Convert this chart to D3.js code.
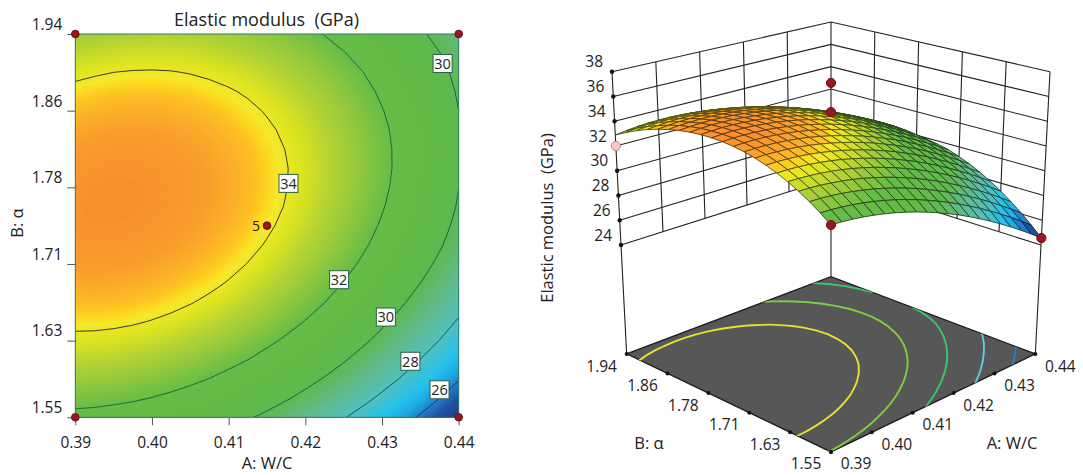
<!DOCTYPE html>
<meta charset="utf-8">
<script src="https://cdn.jsdelivr.net/npm/d3@7"></script>
<style>
  body { margin: 0; background: #fff; }
  text { font-family: "Open Sans", sans-serif; fill: #222; }
</style>
<div id="chart"></div>
<script>
// axis labels
var aLabels = ["0.39", "0.40", "0.41", "0.42", "0.43", "0.44"];
var bLabels = ["1.55", "1.63", "1.71", "1.78", "1.86", "1.94"];
var zLabels = [24, 26, 28, 30, 32, 34, 36, 38];

// grid positions of the response table below
var gridA = [0.39, 0.3925, 0.395, 0.3975, 0.40, 0.4025, 0.405, 0.4075, 0.41, 0.4125, 0.415,
             0.4175, 0.42, 0.4225, 0.425, 0.4275, 0.43, 0.4325, 0.435, 0.4375, 0.44];
var gridB = [1.55, 1.5695, 1.589, 1.6085, 1.628, 1.6475, 1.667, 1.6865, 1.706, 1.7255, 1.745,
             1.7645, 1.784, 1.8035, 1.823, 1.8425, 1.862, 1.8815, 1.901, 1.9205, 1.94];

// elastic modulus: one row per gridB value, one column per gridA value
var modulus = [
  [31.73,31.68,31.60,31.48,31.33,31.15,30.94,30.70,30.42,30.11,29.77,29.39,28.99,28.55,28.07,27.57,27.03,26.46,25.86,25.23,24.56],
  [32.34,32.30,32.22,32.12,31.98,31.81,31.60,31.37,31.10,30.80,30.46,30.10,29.70,29.27,28.80,28.31,27.78,27.22,26.63,26.00,25.34],
  [32.89,32.86,32.79,32.69,32.56,32.40,32.21,31.98,31.72,31.43,31.10,30.74,30.35,29.93,29.48,28.99,28.47,27.92,27.33,26.72,26.07],
  [33.38,33.36,33.30,33.21,33.09,32.94,32.75,32.53,32.28,32.00,31.68,31.33,30.95,30.54,30.09,29.61,29.10,28.56,27.98,27.37,26.73],
  [33.82,33.80,33.75,33.67,33.56,33.42,33.24,33.03,32.79,32.51,32.20,31.86,31.49,31.09,30.65,30.18,29.68,29.14,28.57,27.98,27.34],
  [34.19,34.19,34.15,34.08,33.97,33.84,33.67,33.47,33.23,32.97,32.67,32.34,31.97,31.58,31.15,30.69,30.19,29.67,29.11,28.52,27.89],
  [34.51,34.52,34.48,34.42,34.33,34.20,34.04,33.85,33.62,33.36,33.07,32.75,32.40,32.01,31.59,31.14,30.65,30.13,29.58,29.00,28.39],
  [34.77,34.79,34.76,34.71,34.62,34.50,34.35,34.17,33.95,33.70,33.42,33.11,32.76,32.38,31.97,31.53,31.05,30.54,30.00,29.43,28.82],
  [34.98,35.00,34.98,34.94,34.86,34.75,34.61,34.43,34.22,33.98,33.71,33.41,33.07,32.70,32.30,31.86,31.39,30.89,30.36,29.80,29.20],
  [35.12,35.15,35.15,35.11,35.04,34.94,34.81,34.64,34.44,34.21,33.94,33.65,33.32,32.96,32.56,32.14,31.68,31.19,30.66,30.11,29.52],
  [35.21,35.25,35.25,35.22,35.16,35.07,34.94,34.79,34.60,34.37,34.12,33.83,33.51,33.16,32.77,32.35,31.90,31.42,30.91,30.36,29.72],
  [35.24,35.28,35.30,35.28,35.23,35.14,35.03,34.88,34.70,34.48,34.23,33.96,33.64,33.30,32.92,32.51,32.07,31.60,31.09,30.55,29.90],
  [35.21,35.26,35.29,35.28,35.23,35.16,35.05,34.91,34.74,34.53,34.29,34.02,33.72,33.38,33.02,32.62,32.18,31.72,31.22,30.69,30.01],
  [35.12,35.19,35.22,35.21,35.18,35.11,35.01,34.88,34.72,34.52,34.29,34.03,33.74,33.41,33.05,32.66,32.24,31.78,31.29,30.77,30.07],
  [34.98,35.05,35.09,35.10,35.07,35.01,34.92,34.80,34.64,34.46,34.23,33.98,33.70,33.38,33.03,32.65,32.23,31.78,31.30,30.79,30.09],
  [34.77,34.86,34.90,34.92,34.90,34.85,34.77,34.66,34.51,34.33,34.12,33.87,33.60,33.29,32.95,32.57,32.17,31.73,31.26,30.75,30.07],
  [34.51,34.60,34.66,34.68,34.68,34.64,34.56,34.46,34.32,34.15,33.94,33.71,33.44,33.14,32.81,32.44,32.04,31.61,31.15,30.66,30.00],
  [34.20,34.29,34.36,34.39,34.39,34.36,34.30,34.20,34.07,33.91,33.71,33.49,33.23,32.94,32.61,32.25,31.86,31.44,30.99,30.50,29.88],
  [33.82,33.92,34.00,34.04,34.05,34.03,33.97,33.88,33.76,33.61,33.42,33.20,32.95,32.67,32.36,32.01,31.63,31.21,30.77,30.29,29.72],
  [33.38,33.50,33.58,33.63,33.65,33.64,33.59,33.51,33.40,33.25,33.08,32.87,32.62,32.35,32.04,31.70,31.33,30.93,30.49,30.02,29.52],
  [32.89,33.01,33.11,33.17,33.19,33.19,33.15,33.08,32.97,32.84,32.67,32.47,32.24,31.97,31.67,31.34,30.98,30.58,30.15,29.69,29.20]
];

// contour levels and their labels on the flat plot
var lineLevels = [34, 32, 30, 28, 26];
var lineColors = ["#3b3b2a", "#1f6b3c", "#12694a", "#0f5f5f", "#14397a"];
var labelText = ["34", "32", "30", "30", "28", "26"];
var labelA = [0.4178, 0.4244, 0.4305, 0.4379, 0.4337, 0.4375];
var labelB = [1.788, 1.690, 1.652, 1.910, 1.607, 1.578];

// contours drawn on the floor of the 3D box
var floorLevels = [33.5, 31.8, 30, 28, 26];
var floorColors = ["#e4e12f", "#7ccf3f", "#38c76c", "#58d0e0", "#1e80cc"];

// design points
var pointA = [0.39, 0.44, 0.39, 0.44, 0.415];
var pointB = [1.55, 1.55, 1.94, 1.94, 1.745];
var ballA = [0.39, 0.44, 0.415, 0.415, 0.39];
var ballB = [1.55, 1.55, 1.745, 1.745, 1.94];
var ballZ = [31.73, 24.56, 35.1, 37.45, 32];
var ballFill = ["#9c1520", "#9c1520", "#9c1520", "#9c1520", "#f8c8c8"];

// colour ramp of the response
var rampValues = [24.5, 25.3, 25.9, 26.4, 27, 28, 29, 30, 31, 32, 32.6, 33.3, 33.8, 33.95, 34.12, 34.25, 34.4, 34.6, 34.9, 35.3];
var rampColors = ["#1c3a8e", "#20509f", "#2478c4", "#1fa5e0", "#22c1ee", "#52c0bc", "#60bb8e", "#60b84f",
                  "#62bb46", "#66bc47", "#8ac640", "#b5d334", "#dde41f", "#e6e624", "#f5e92b", "#fbd91f",
                  "#fdc322", "#fcb428", "#fa9f2b", "#f7902d"];
var color = d3.scaleLinear().domain(rampValues).range(rampColors).clamp(true);

var svg = d3.select("#chart").append("svg")
  .attr("width", 1083)
  .attr("height", 475);

var nx = gridA.length, ny = gridB.length;
var flat = d3.merge(modulus);
var contourGen = d3.contours().size([nx, ny]);

/* ---------- flat contour plot ---------- */
var plot = {left: 75.3, right: 458.7, top: 34, bottom: 417.3};

var x = d3.scaleLinear().domain([0.39, 0.44]).range([plot.left, plot.right]);
var y = d3.scaleLinear().domain([1.55, 1.94]).range([plot.bottom, plot.top]);

// d3.contours puts grid point i at i + 0.5
var gridToA = d3.scaleLinear().domain([0.5, nx - 0.5]).range([0.39, 0.44]);
var gridToB = d3.scaleLinear().domain([0.5, ny - 0.5]).range([1.55, 1.94]);

var flatPath = d3.geoPath(d3.geoTransform({
  point: function(px, py) { this.stream.point(x(gridToA(px)), y(gridToB(py))); }
}));

svg.append("clipPath").attr("id", "plotClip")
  .append("rect")
    .attr("x", plot.left).attr("y", plot.top)
    .attr("width", plot.right - plot.left)
    .attr("height", plot.bottom - plot.top);

var flatG = svg.append("g").attr("clip-path", "url(#plotClip)");

flatG.selectAll("path.band")
  .data(contourGen.thresholds(d3.range(24, 35.4, 0.05))(flat))
  .enter().append("path")
    .attr("d", flatPath)
    .attr("fill", function(d) { return color(d.value + 0.025); });

flatG.selectAll("path.line")
  .data(contourGen.thresholds(lineLevels)(flat))
  .enter().append("path")
    .attr("d", flatPath)
    .attr("fill", "none")
    .attr("stroke", function(d) { return lineColors[lineLevels.indexOf(d.value)]; })
    .attr("stroke-width", 1);

svg.append("rect")
  .attr("x", plot.left).attr("y", plot.top)
  .attr("width", plot.right - plot.left)
  .attr("height", plot.bottom - plot.top)
  .attr("fill", "none")
  .attr("stroke", "#2f7d62");

// axes use evenly spaced label positions
var xAxisScale = d3.scalePoint().domain(aLabels).range([plot.left, plot.right]);
var yAxisScale = d3.scalePoint().domain(bLabels).range([plot.bottom, plot.top]);

var xAxis = svg.append("g")
  .attr("transform", "translate(0," + plot.bottom + ")")
  .call(d3.axisBottom(xAxisScale).tickSize(8).tickPadding(12));
xAxis.select(".domain").remove();
xAxis.selectAll("line").attr("stroke", "#555");
xAxis.selectAll("text").attr("font-size", 15.5).attr("fill", "#222");

var yAxis = svg.append("g")
  .attr("transform", "translate(" + plot.left + ",0)")
  .call(d3.axisLeft(yAxisScale).tickSize(8).tickPadding(5));
yAxis.select(".domain").remove();
yAxis.selectAll("line").attr("stroke", "#555");
yAxis.selectAll("text")
  .attr("font-size", 15.5)
  .attr("fill", "#222")
  .attr("dy", "-0.3em");

svg.append("text")
  .attr("x", 266.5).attr("y", 26)
  .attr("text-anchor", "middle")
  .attr("font-size", 18)
  .attr("xml:space", "preserve")
  .text("Elastic modulus  (GPa)");

svg.append("text")
  .attr("x", 267).attr("y", 469)
  .attr("text-anchor", "middle")
  .attr("font-size", 16.5)
  .text("A: W/C");

svg.append("text")
  .attr("transform", "translate(23,223) rotate(-90)")
  .attr("text-anchor", "middle")
  .attr("font-size", 16.5)
  .text("B: \u03b1");

var labels = svg.selectAll("g.contour-label")
  .data(labelText)
  .enter().append("g")
    .attr("class", "contour-label")
    .attr("transform", function(d, i) { return "translate(" + x(labelA[i]) + "," + y(labelB[i]) + ")"; });

labels.append("rect")
  .attr("x", -9.5).attr("y", -9)
  .attr("width", 19).attr("height", 18)
  .attr("fill", "#fff")
  .attr("stroke", "#2c5e48");

labels.append("text")
  .attr("text-anchor", "middle")
  .attr("dy", "0.36em")
  .attr("font-size", 14.5)
  .text(function(d) { return d; });

svg.selectAll("circle.design")
  .data(pointA)
  .enter().append("circle")
    .attr("class", "design")
    .attr("cx", function(d) { return x(d); })
    .attr("cy", function(d, i) { return y(pointB[i]); })
    .attr("r", 3.8)
    .attr("fill", "#9c1520")
    .attr("stroke", "#6d0e14");

svg.append("text")
  .attr("x", x(0.415) - 11).attr("y", y(1.745))
  .attr("dy", "0.36em")
  .attr("text-anchor", "middle")
  .attr("font-size", 14)
  .text("5");

/* ---------- 3D surface ---------- */
// box corners at z = 24 and z = 38; everything in between is linear
var boxFront = {low: [831, 331.1], high: [831, 138.9]};
var boxRight = {low: [1041, 245], high: [1050, 71.7]};
var boxLeft  = {low: [621, 245],  high: [612, 71.7]};
var boxBack  = {low: [831, 178.4], high: [831, 22]};
var floorZ = 15.2;

var uScale = d3.scaleLinear().domain([0.39, 0.44]).range([0, 1]);
var vScale = d3.scaleLinear().domain([1.55, 1.94]).range([0, 1]);
var wScale = d3.scaleLinear().domain([24, 38]).range([0, 1]);

function corner(c, w, k) { return c.low[k] + (c.high[k] - c.low[k]) * w; }

function project(a, b, z) {
  var u = uScale(a), v = vScale(b), w = wScale(z);
  return [0, 1].map(function(k) {
    return (1 - u) * (1 - v) * corner(boxFront, w, k) +
           u * (1 - v) * corner(boxRight, w, k) +
           (1 - u) * v * corner(boxLeft, w, k) +
           u * v * corner(boxBack, w, k);
  });
}

var scene = svg.append("g");
var wallLine = d3.line();

function wallStroke(sel) {
  return sel.attr("fill", "none").attr("stroke", "#222").attr("stroke-width", 1.1);
}

// height lines along both walls
scene.selectAll("path.level")
  .data(zLabels)
  .enter().append("path")
    .attr("d", function(z) {
      return wallLine([project(0.39, 1.94, z), project(0.44, 1.94, z), project(0.44, 1.55, z)]);
    })
    .call(wallStroke);

// wall lines at each A and B tick
scene.selectAll("path.awall")
  .data(aLabels.slice(1, 5))
  .enter().append("path")
    .attr("d", function(a) { return wallLine([project(+a, 1.94, 24), project(+a, 1.94, 38)]); })
    .call(wallStroke);

var bPos = d3.scalePoint().domain(bLabels).range([1.55, 1.94]);

scene.selectAll("path.bwall")
  .data(bLabels.slice(1, 5))
  .enter().append("path")
    .attr("d", function(b) { return wallLine([project(0.44, bPos(b), 24), project(0.44, bPos(b), 38)]); })
    .call(wallStroke);

// corner posts down to the floor
var postA = [0.39, 0.44, 0.44];
var postB = [1.94, 1.94, 1.55];
scene.selectAll("path.post")
  .data(postA)
  .enter().append("path")
    .attr("d", function(a, i) { return wallLine([project(a, postB[i], floorZ), project(a, postB[i], 38)]); })
    .call(wallStroke);

// floor
var floorCorners = [
  project(0.39, 1.55, floorZ), project(0.44, 1.55, floorZ),
  project(0.44, 1.94, floorZ), project(0.39, 1.94, floorZ)
];

svg.append("clipPath").attr("id", "floorClip")
  .append("polygon").attr("points", floorCorners.join(" "));

scene.append("polygon")
  .attr("points", floorCorners.join(" "))
  .attr("fill", "#575757")
  .attr("stroke", "#1c1c1c")
  .attr("stroke-width", 1.3);

var floorPath = d3.geoPath(d3.geoTransform({
  point: function(px, py) {
    var p = project(gridToA(px), gridToB(py), floorZ);
    this.stream.point(p[0], p[1]);
  }
}));

scene.append("g").attr("clip-path", "url(#floorClip)")
  .selectAll("path")
  .data(contourGen.thresholds(floorLevels)(flat))
  .enter().append("path")
    .attr("d", floorPath)
    .attr("fill", "none")
    .attr("stroke", function(d) { return floorColors[floorLevels.indexOf(d.value)]; })
    .attr("stroke-width", 1.9);

// surface cells, back to front
var cells = [];
d3.range(ny - 1).forEach(function(j) {
  d3.range(nx - 1).forEach(function(i) {
    cells.push({i: i, j: j});
  });
});
cells.sort(function(a, b) { return (b.i + b.j) - (a.i + a.j); });

scene.selectAll("polygon.cell")
  .data(cells)
  .enter().append("polygon")
    .attr("class", "cell")
    .attr("points", function(d) {
      var i = d.i, j = d.j;
      return [
        project(gridA[i], gridB[j], modulus[j][i]),
        project(gridA[i + 1], gridB[j], modulus[j][i + 1]),
        project(gridA[i + 1], gridB[j + 1], modulus[j + 1][i + 1]),
        project(gridA[i], gridB[j + 1], modulus[j + 1][i])
      ].join(" ");
    })
    .attr("fill", function(d) {
      var i = d.i, j = d.j;
      return color((modulus[j][i] + modulus[j][i + 1] + modulus[j + 1][i + 1] + modulus[j + 1][i]) / 4);
    })
    .attr("stroke", function(d) {
      var i = d.i, j = d.j;
      return d3.color(color((modulus[j][i] + modulus[j + 1][i + 1]) / 2)).darker(2.8).formatHex();
    })
    .attr("stroke-width", 0.9)
    .attr("stroke-linejoin", "round");

// tick dots and labels
scene.selectAll("circle.ztick")
  .data(zLabels)
  .enter().append("circle")
    .attr("cx", function(z) { return project(0.39, 1.94, z)[0]; })
    .attr("cy", function(z) { return project(0.39, 1.94, z)[1]; })
    .attr("r", 2.2)
    .attr("fill", "#111");

scene.selectAll("text.ztick")
  .data(zLabels)
  .enter().append("text")
    .attr("x", function(z) { return project(0.39, 1.94, z)[0] - 9; })
    .attr("y", function(z) { return project(0.39, 1.94, z)[1] - 10; })
    .attr("dy", "0.36em")
    .attr("text-anchor", "end")
    .attr("font-size", 15.5)
    .text(function(z) { return z; });

scene.selectAll("circle.btick")
  .data(bLabels)
  .enter().append("circle")
    .attr("cx", function(b) { return project(0.39, bPos(b), floorZ)[0]; })
    .attr("cy", function(b) { return project(0.39, bPos(b), floorZ)[1]; })
    .attr("r", 2)
    .attr("fill", "#111");

scene.selectAll("text.btick")
  .data(bLabels)
  .enter().append("text")
    .attr("x", function(b) { return project(0.39, bPos(b), floorZ)[0] - 25; })
    .attr("y", function(b) { return project(0.39, bPos(b), floorZ)[1] + 12; })
    .attr("dy", "0.36em")
    .attr("text-anchor", "middle")
    .attr("font-size", 15.5)
    .text(function(b) { return b; });

scene.selectAll("circle.atick")
  .data(aLabels)
  .enter().append("circle")
    .attr("cx", function(a) { return project(+a, 1.55, floorZ)[0]; })
    .attr("cy", function(a) { return project(+a, 1.55, floorZ)[1]; })
    .attr("r", 2)
    .attr("fill", "#111");

scene.selectAll("text.atick")
  .data(aLabels)
  .enter().append("text")
    .attr("x", function(a) { return project(+a, 1.55, floorZ)[0] + 25; })
    .attr("y", function(a) { return project(+a, 1.55, floorZ)[1] + 12; })
    .attr("dy", "0.36em")
    .attr("text-anchor", "middle")
    .attr("font-size", 15.5)
    .text(function(a) { return a; });

// design points over the surface
scene.selectAll("circle.ball")
  .data(ballZ)
  .enter().append("circle")
    .attr("cx", function(z, i) { return project(ballA[i], ballB[i], z)[0]; })
    .attr("cy", function(z, i) { return project(ballA[i], ballB[i], z)[1]; })
    .attr("r", 4.6)
    .attr("fill", function(z, i) { return ballFill[i]; })
    .attr("stroke", function(z, i) { return i === 4 ? "#b98a8a" : "#6d0e14"; });

svg.append("text")
  .attr("x", 649).attr("y", 443)
  .attr("dy", "0.36em")
  .attr("text-anchor", "middle")
  .attr("font-size", 16.5)
  .text("B: \u03b1");

svg.append("text")
  .attr("x", 1012).attr("y", 443)
  .attr("dy", "0.36em")
  .attr("text-anchor", "middle")
  .attr("font-size", 16.5)
  .text("A: W/C");

svg.append("text")
  .attr("transform", "translate(553,218) rotate(-90)")
  .attr("text-anchor", "middle")
  .attr("font-size", 16.5)
  .attr("xml:space", "preserve")
  .text("Elastic modulus  (GPa)");
</script>
